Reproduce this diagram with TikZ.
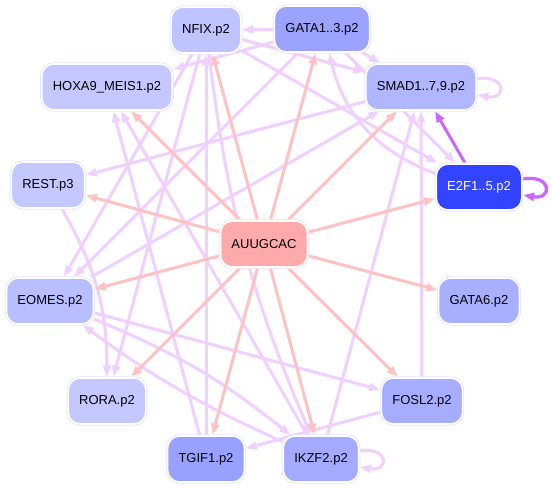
\documentclass[tikz,border=0pt]{standalone}
\usepackage{fontspec}
\setmainfont{Liberation Sans}
\usetikzlibrary{arrows.meta,backgrounds}
\definecolor{nfixc}{RGB}{191,195,255}
\definecolor{gatac}{RGB}{155,163,255}
\definecolor{hoxc}{RGB}{196,200,255}
\definecolor{smadc}{RGB}{176,182,255}
\definecolor{e2fc}{RGB}{51,68,255}
\definecolor{gatasixc}{RGB}{168,175,255}
\definecolor{eomesc}{RGB}{184,190,255}
\definecolor{tgifc}{RGB}{153,161,255}
\definecolor{ikzfc}{RGB}{163,170,255}
\definecolor{foslc}{RGB}{166,173,255}
\definecolor{auc}{RGB}{255,170,170}
\definecolor{ringc}{RGB}{228,228,255}
\definecolor{ringr}{RGB}{255,230,230}
\definecolor{redc}{RGB}{255,194,194}
\definecolor{lavc}{RGB}{240,208,255}
\definecolor{purc}{RGB}{204,102,255}
\begin{document}
\begin{tikzpicture}[x=1pt,y=1pt,
  nb/.style={rounded corners=12pt, minimum height=46pt, inner xsep=11pt, inner ysep=2pt,
    font=\fontsize{13}{15}\selectfont, draw=white, line width=1.6pt,
    preaction={draw=ringc, line width=3.2pt}, text=black},
  ed/.style={line width=3pt, -{Triangle[length=11pt,width=8pt]}, shorten >=0.5pt},
  rd/.style={ed, draw=redc},
  lv/.style={ed, draw=lavc},
  pp/.style={ed, draw=purc},
]
\useasboundingbox (0,0) rectangle (552,489);
% nodes
\node[nb, fill=nfixc] (nfix) at (206,459) {NFIX.p2};
\node[nb, fill=gatac] (gata) at (322,460) {GATA1..3.p2};
\node[nb, fill=hoxc] (hox) at (107,402) {HOXA9\_MEIS1.p2};
\node[nb, fill=smadc] (smad) at (421,402) {SMAD1..7,9.p2};
\node[nb, fill=hoxc] (rest) at (48,304) {REST.p3};
\node[nb, fill=e2fc, text=white] (e2f) at (479,302) {E2F1..5.p2};
\node[nb, fill=auc, preaction={draw=ringr, line width=3.2pt}] (au) at (264,245) {AUUGCAC};
\node[nb, fill=eomesc] (eomes) at (50,188) {EOMES.p2};
\node[nb, fill=gatasixc] (gata6) at (479,188) {GATA6.p2};
\node[nb, fill=hoxc] (rora) at (107,88) {RORA.p2};
\node[nb, fill=foslc] (fosl) at (422,88) {FOSL2.p2};
\node[nb, fill=tgifc] (tgif) at (206,30) {TGIF1.p2};
\node[nb, fill=ikzfc] (ikzf) at (321,30) {IKZF2.p2};
\begin{scope}[on background layer]
\fill[white] (0,0) rectangle (552,489);
% lavender edges
\draw[lv] (gata) -- (nfix);
\draw[lv] (gata) -- (hox);
\draw[lv] (gata) -- (smad);
\draw[lv] (gata) -- (eomes);
\draw[lv] (gata) -- (e2f);
\draw[lv] (e2f) to[bend left=28] (gata);
\draw[lv] (nfix) -- (smad);
\draw[lv] (nfix) -- (e2f);
\draw[lv] (nfix) -- (eomes);
\draw[lv] (nfix) -- (rora);
\draw[lv] (nfix) to[bend right=8] (ikzf);
\draw[lv] (tgif) -- (nfix);
\draw[lv] (tgif) -- (hox);
\draw[lv] (ikzf) -- (hox);
\draw[lv] (smad) -- (rest);
\draw[lv] (eomes) -- (smad);
\draw[lv] (rest) to[bend left=15] (rora);
\draw[lv] (eomes) -- (fosl);
\draw[lv] (eomes) to[bend left=8] (ikzf);
\draw[lv] (ikzf) to[bend left=6] (eomes);
\draw[lv] (ikzf) -- (smad);
\draw[lv] (fosl) -- (smad);
\draw[lv] (fosl) -- (tgif);
\draw[lv] ([yshift=8pt]smad.east) .. controls +(30,5) and +(30,-5) .. ([yshift=-8pt]smad.east);
\draw[lv] ([yshift=8pt]ikzf.east) .. controls +(30,5) and +(30,-5) .. ([yshift=-8pt]ikzf.east);
% purple
\draw[pp] (e2f) -- (smad);
\draw[pp, line width=3.3pt] ([yshift=8pt]e2f.east) .. controls +(30,5) and +(30,-5) .. ([yshift=-8pt]e2f.east);
% red edges
\foreach \t in {nfix,gata,hox,smad,rest,e2f,eomes,gata6,rora,fosl,tgif,ikzf}
  \draw[rd] (au) -- (\t);
\end{scope}
\end{tikzpicture}
\end{document}
